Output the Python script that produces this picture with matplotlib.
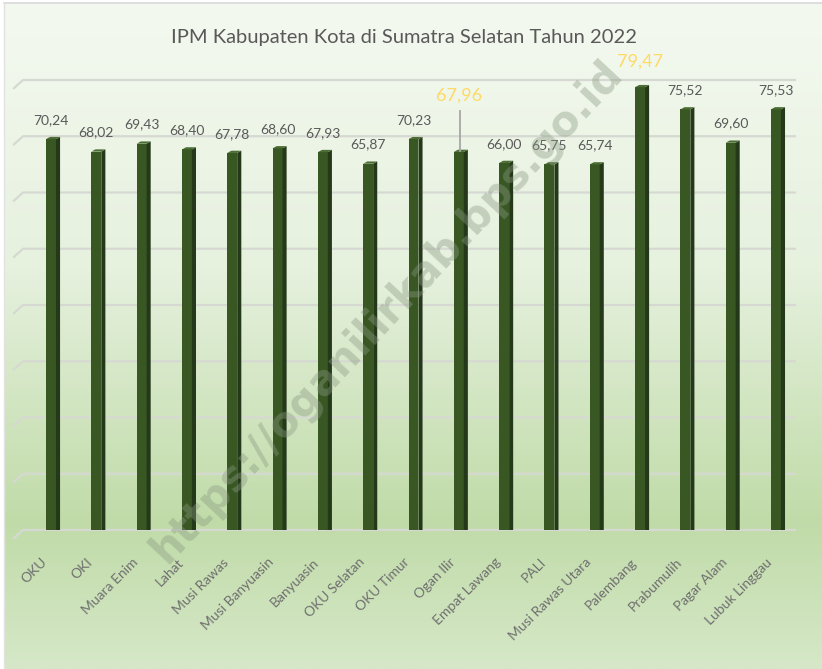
import numpy as np
import matplotlib.pyplot as plt
from matplotlib.patches import Polygon
from matplotlib.colors import LinearSegmentedColormap
from matplotlib.transforms import offset_copy

plt.rcParams['font.family'] = ['Lato', 'DejaVu Sans']

regions = ['OKU', 'OKI', 'Muara Enim', 'Lahat', 'Musi Rawas', 'Musi Banyuasin',
           'Banyuasin', 'OKU Selatan', 'OKU Timur', 'Ogan Ilir', 'Empat Lawang',
           'PALI', 'Musi Rawas Utara', 'Palembang', 'Prabumulih', 'Pagar Alam',
           'Lubuk Linggau']
ipm = [70.24, 68.02, 69.43, 68.40, 67.78, 68.60, 67.93, 65.87, 70.23, 67.96,
       66.00, 65.75, 65.74, 79.47, 75.52, 69.60, 75.53]
grid_vals = [0, 10, 20, 30, 40, 50, 60, 70, 80]

W, H = 822, 669
fig = plt.figure(figsize=(W / 100, H / 100), dpi=100)
fig.patch.set_facecolor('white')

# background gradient panel
bg = fig.add_axes([4 / W, 0, 1 - 4 / W, 1 - 3 / H])
cmap = LinearSegmentedColormap.from_list('bg', [
    (0.0, '#f4f9f0'), (0.40, '#e6f1de'), (0.78, '#c0dba8'), (1.0, '#d6e8c8')])
grad = np.linspace(0, 1, 256).reshape(-1, 1)
bg.imshow(grad, aspect='auto', cmap=cmap, extent=[0, 1, 0, 1], origin='upper')
bg.set_xlim(0, 1)
bg.set_ylim(0, 1)
bg.axis('off')
fig.add_artist(plt.Line2D([4 / W, 1], [1 - 3 / H, 1 - 3 / H], color='#d9d9d9', lw=1.2))
fig.add_artist(plt.Line2D([4 / W, 4 / W], [0, 1 - 3 / H], color='#e2e2e2', lw=1.0))

# plot area in pixel terms: x 23..795, y 80..530 (top-down)
ax = fig.add_axes([23 / W, (H - 530) / H, (795 - 23) / W, 450 / H])
ax.patch.set_alpha(0)
x = np.arange(len(regions))
ax.set_xlim(-0.618, len(regions) - 1 + 0.42)
ax.set_ylim(0, 80)
for s in ax.spines.values():
    s.set_visible(False)
ax.set_xticks([])
ax.set_yticks([])

x0 = ax.get_xlim()[0]
for g in grid_vals:
    ax.plot([x0 - 0.2, x0, ax.get_xlim()[1]], [g - 1.45, g, g],
            color='#d6d9d2', lw=1.6, clip_on=False, zorder=1)

# watermark
fig.text(0.47, 0.535, 'https://oganilirkab.bps.go.id', fontsize=30,
         fontweight='bold', family='DejaVu Sans', color='#8a9a82', alpha=0.4,
         rotation=47, ha='center', va='center', zorder=0)

# 3d-ish bars
hw, sd, dp = 0.11, 0.09, 0.4
for xi, v in zip(x, ipm):
    top = v - 0.75
    ax.add_patch(Polygon([(xi - hw, -0.9), (xi + hw, -0.9), (xi + hw, top), (xi - hw, top)],
                         closed=True, fc='#385723', ec='none', zorder=3))
    ax.add_patch(Polygon([(xi + hw, -0.9), (xi + hw + sd, -0.9 + dp), (xi + hw + sd, top + dp),
                          (xi + hw, top)], closed=True, fc='#24391a', ec='none', zorder=3))
    ax.add_patch(Polygon([(xi - hw, top), (xi + hw, top), (xi + hw + sd, top + dp),
                          (xi - hw + sd, top + dp)], closed=True, fc='#4c6e35', ec='none', zorder=3))

# value labels
for xi, name, v in zip(x, regions, ipm):
    txt = f'{v:.2f}'.replace('.', ',')
    if name == 'Ogan Ilir':
        ax.plot([xi + 0.03, xi + 0.03], [v - 0.6, v + 6.6], color='#a6a6a6', lw=1.3, zorder=4)
        ax.annotate(txt, (xi, v), xytext=(0, 52), textcoords='offset pixels',
                    ha='center', va='center', fontsize=13, color='#ffd966', zorder=5)
    elif name == 'Palembang':
        ax.annotate(txt, (xi, v), xytext=(0, 21), textcoords='offset pixels',
                    ha='center', va='center', fontsize=13, color='#ffd966', zorder=5)
    else:
        ax.annotate(txt, (xi, v), xytext=(0, 15), textcoords='offset pixels',
                    ha='center', va='center', fontsize=10, color='#595959', zorder=5)

# category labels
tr = offset_copy(ax.transData, fig=fig, x=-10, y=-26, units='dots')
for xi, name in zip(x, regions):
    ax.text(xi, 0, name, transform=tr, rotation=45, rotation_mode='anchor',
            ha='right', va='top', fontsize=10, color='#6f6f6f')

fig.text(0.492, 1 - 38 / H, 'IPM Kabupaten Kota di Sumatra Selatan Tahun 2022',
         ha='center', va='center', fontsize=14.5, color='#595959')

fig.savefig('out.png', dpi=100)
